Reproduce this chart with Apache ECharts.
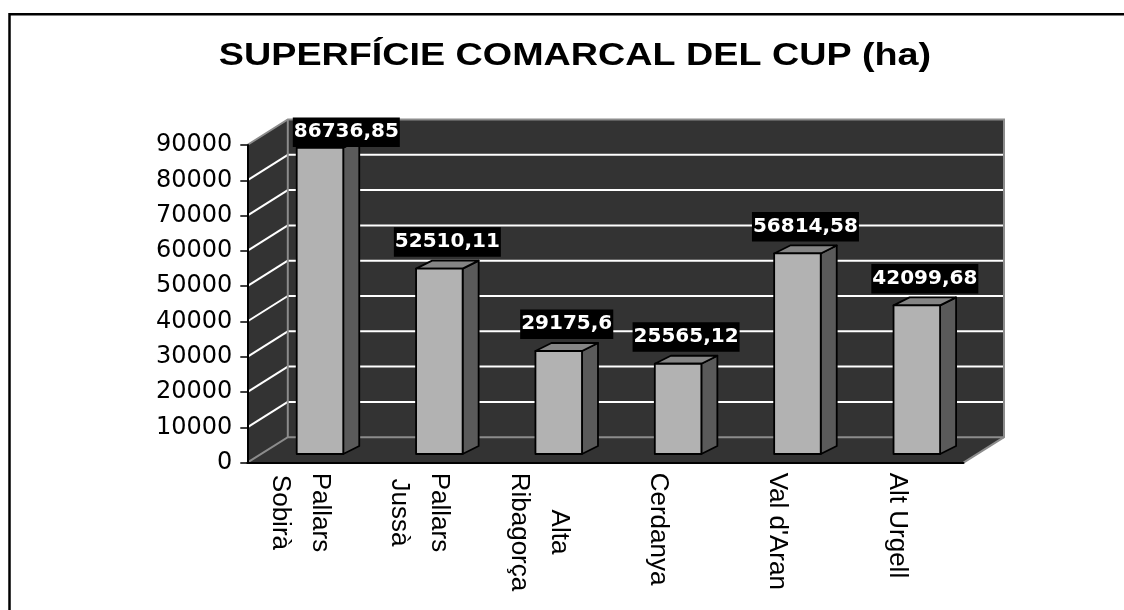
<!DOCTYPE html>
<html>
<head>
<meta charset="utf-8">
<title>Superfície comarcal del CUP</title>
<script src="https://cdn.jsdelivr.net/npm/echarts@6/dist/echarts.min.js"></script>
<style>
html, body { margin: 0; padding: 0; background: #fff; }
#chart { width: 1124px; height: 610px; }
</style>
</head>
<body>
<div id="chart"></div>
<script>
var titol = 'SUPERFÍCIE COMARCAL DEL CUP (ha)';
var comarques = ['Pallars\nSobirà', 'Pallars\nJussà', 'Alta\nRibagorça', 'Cerdanya', "Val d'Aran", 'Alt Urgell'];
var superficie = [86736.85, 52510.11, 29175.6, 25565.12, 56814.58, 42099.68];
var yTicks = [0, 10000, 20000, 30000, 40000, 50000, 60000, 70000, 80000, 90000];

// fals 3D (pixels)
var WALL_D = [40.5, -25.5];   // fons de les parets
var BAR_SHIFT = [13, -8.7];   // on comença la barra dins del terra
var BAR_D = [16, -8];         // gruix de la barra
var LABEL_FONT = 'bold 20px "DejaVu Sans"';

var measureCtx = document.createElement('canvas').getContext('2d');
function textWidth(t, font) {
    measureCtx.font = font;
    return measureCtx.measureText(t).width;
}

var yMax = yTicks[yTicks.length - 1];

function plotBox(api) {
    var band = api.size([1, 0])[0];
    return {
        band: band,
        x0: api.coord([0, 0])[0] - band / 2,
        x1: api.coord([comarques.length - 1, 0])[0] + band / 2,
        y0: api.coord([0, 0])[1],
        yT: api.coord([0, yMax])[1]
    };
}

function renderWalls(params, api) {
    var b = plotBox(api);
    var dx = WALL_D[0], dy = WALL_D[1];
    var fill = '#333333';
    var kids = [];
    // terra
    kids.push({type: 'polygon', shape: {points: [[b.x0, b.y0], [b.x1, b.y0], [b.x1 + dx, b.y0 + dy], [b.x0 + dx, b.y0 + dy]]}, style: {fill: fill}});
    // paret esquerra
    kids.push({type: 'polygon', shape: {points: [[b.x0, b.y0], [b.x0, b.yT], [b.x0 + dx, b.yT + dy], [b.x0 + dx, b.y0 + dy]]}, style: {fill: fill}});
    // paret del fons
    kids.push({type: 'rect', shape: {x: b.x0 + dx, y: b.yT + dy, width: b.x1 - b.x0, height: b.y0 - b.yT}, style: {fill: fill}});
    yTicks.forEach(function (v) {
        if (v === 0 || v === yMax) return;
        var y = api.coord([0, v])[1];
        kids.push({type: 'line', shape: {x1: b.x0, y1: y, x2: b.x0 + dx, y2: y + dy}, style: {stroke: '#fff', lineWidth: 2}});
        kids.push({type: 'line', shape: {x1: b.x0 + dx, y1: y + dy, x2: b.x1 + dx, y2: y + dy}, style: {stroke: '#fff', lineWidth: 2}});
    });
    var edge = {stroke: '#8c8c8c', lineWidth: 2, fill: null};
    kids.push({type: 'polyline', shape: {points: [[b.x0, b.y0], [b.x0 + dx, b.y0 + dy], [b.x1 + dx, b.y0 + dy]]}, style: edge});
    kids.push({type: 'polyline', shape: {points: [[b.x0 + dx, b.y0 + dy], [b.x0 + dx, b.yT + dy]]}, style: edge});
    kids.push({type: 'polyline', shape: {points: [[b.x0, b.yT], [b.x0 + dx, b.yT + dy], [b.x1 + dx, b.yT + dy], [b.x1 + dx, b.y0 + dy], [b.x1, b.y0]]}, style: edge});
    return {type: 'group', children: kids};
}

function renderBar(params, api) {
    var i = api.value(0), v = api.value(1);
    var b = plotBox(api);
    var w = b.band * 0.39;
    var base = api.coord([i, 0]);
    var top = api.coord([i, v]);
    var cx = base[0] + BAR_SHIFT[0];
    var yb = base[1] + BAR_SHIFT[1];
    var yt = top[1] + BAR_SHIFT[1];
    var l = cx - w / 2, r = cx + w / 2;
    var dx = BAR_D[0], dy = BAR_D[1];
    var line = {stroke: '#000', lineWidth: 1.8, lineJoin: 'round'};

    var txt = String(v).replace('.', ',');
    var bw = textWidth(txt, LABEL_FONT) + 2;
    var bh = 29.5;
    var lx = Math.max(cx + 8 - bw / 2, b.x0 + WALL_D[0] + 5);
    var ly = Math.max(yt + dy - 4 - bh, b.yT + WALL_D[1] - 2);

    return {
        type: 'group',
        children: [
            {type: 'polygon', shape: {points: [[r, yb], [r, yt], [r + dx, yt + dy], [r + dx, yb + dy]]},
                style: Object.assign({fill: '#5a5a5a'}, line)},
            {type: 'polygon', shape: {points: [[l, yt], [l + dx, yt + dy], [r + dx, yt + dy], [r, yt]]},
                style: Object.assign({fill: '#858585'}, line)},
            {type: 'rect', shape: {x: l, y: yt, width: w, height: yb - yt},
                style: Object.assign({fill: '#b2b2b2'}, line)},
            {type: 'text', x: lx, y: ly, z2: 10,
                style: {text: txt, font: LABEL_FONT, fill: '#fff', align: 'left', verticalAlign: 'top',
                    lineHeight: 20, backgroundColor: '#000', padding: [4.5, 1, 5, 1]}}
        ]
    };
}

var barData = superficie.map(function (v, i) { return [i, v]; });

var myChart = echarts.init(document.getElementById('chart'), null, {renderer: 'canvas'});
var option = {
    backgroundColor: '#fff',
    animation: false,
    graphic: [
        {type: 'polyline', shape: {points: [[9.5, 620], [9.5, 14.3], [1130, 14.3]]},
            style: {stroke: '#000', lineWidth: 2.5, fill: null}},
        {type: 'text', x: 575, y: 56.2, scaleX: 1.19, scaleY: 1,
            style: {text: titol, font: 'bold 31.7px "Liberation Sans", Arial', fill: '#000',
                align: 'center', verticalAlign: 'middle'}}
    ],
    grid: {left: 247.3, right: 160.5, top: 145, bottom: 147.3, outerBoundsMode: 'none'},
    xAxis: {
        type: 'category',
        data: comarques,
        z: 10,
        axisLine: {lineStyle: {color: '#000', width: 2}},
        axisTick: {length: 5, lineStyle: {color: '#000', width: 1.5}},
        axisLabel: {
            interval: 0,
            rotate: -90,
            margin: 10,
            padding: [14, 0, 0, 0],
            formatter: function (s) {
                return s.split('\n').map(function (p) { return '{a|' + p + '}'; }).join('\n');
            },
            rich: {
                a: {align: 'center', fontSize: 26, lineHeight: 40, color: '#000',
                    fontFamily: '"Liberation Sans", Arial'}
            }
        },
        splitLine: {show: false}
    },
    yAxis: {
        type: 'value',
        min: 0,
        max: yMax,
        interval: 10000,
        z: 10,
        axisLine: {show: true, lineStyle: {color: '#000', width: 2}},
        axisTick: {show: true, length: 7, lineStyle: {color: '#000', width: 1.5}},
        axisLabel: {
            margin: 15,
            color: '#000',
            fontSize: 24,
            fontFamily: '"DejaVu Sans"',
            formatter: function (v) { return String(v); }
        },
        splitLine: {show: false}
    },
    series: [
        {type: 'custom', z: 1, data: [[0, 0]], renderItem: renderWalls, silent: true},
        {type: 'custom', z: 2, data: barData, renderItem: renderBar, encode: {x: 0, y: 1}}
    ]
};

if (option && typeof option === "object") {
    myChart.setOption(option, true);
}
</script>
</body>
</html>
